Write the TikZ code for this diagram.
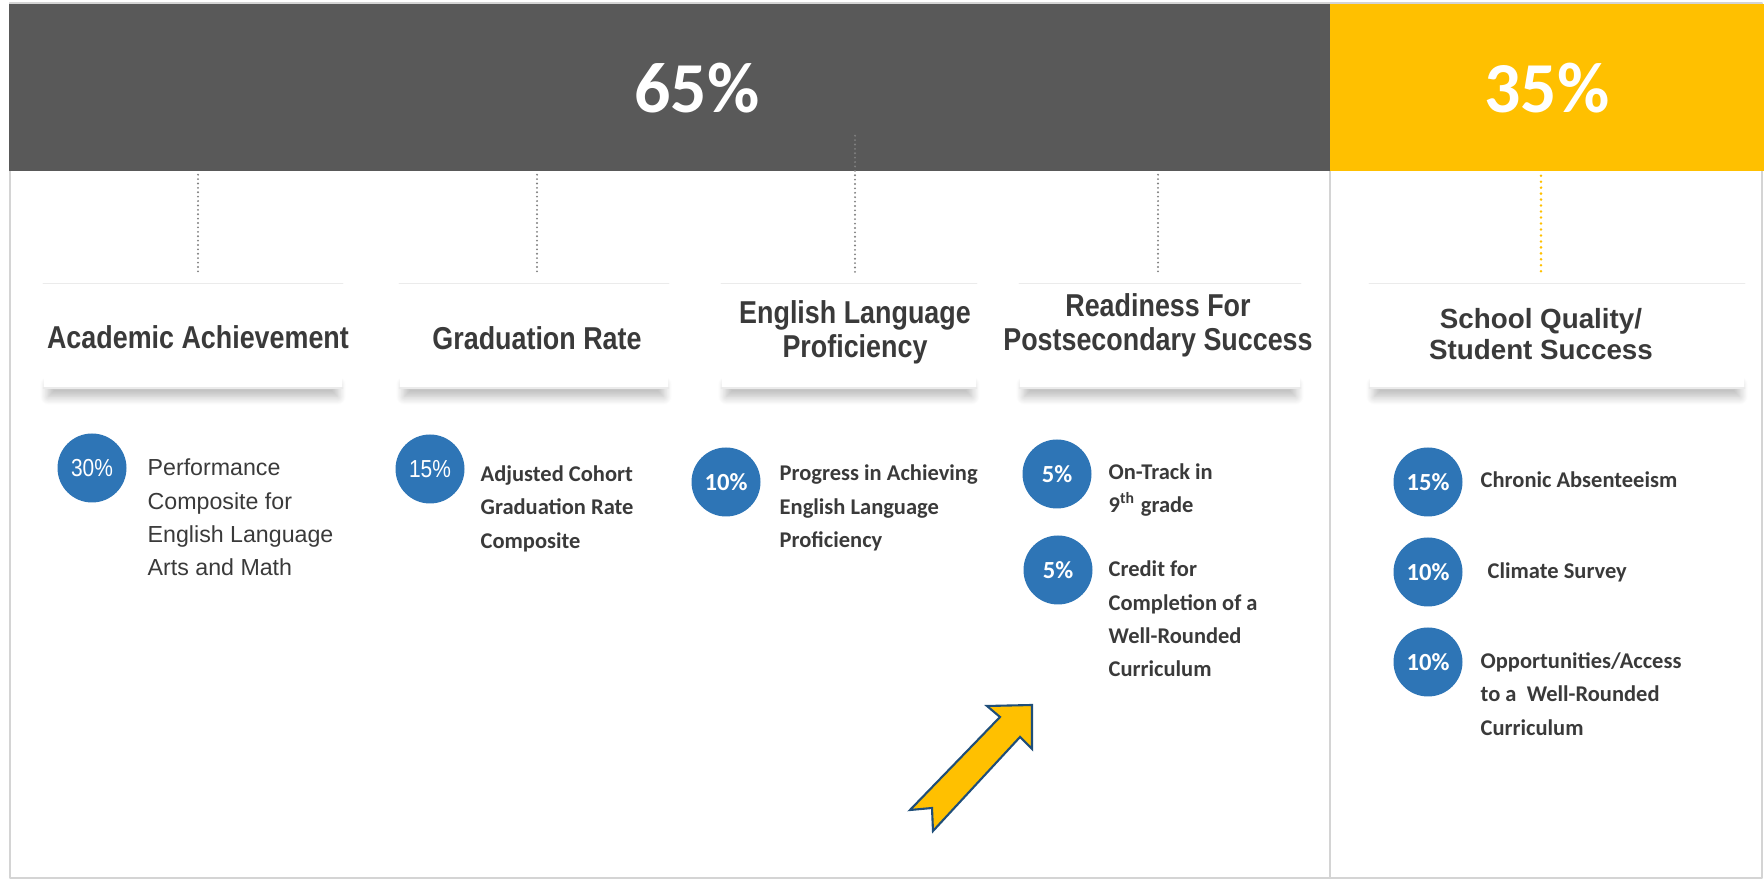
\documentclass[tikz,border=0pt]{standalone}
\usepackage{fontspec}
\setmainfont{Liberation Sans}
\newfontfamily\narrowsans[FakeStretch=0.85]{Liberation Sans}
\newfontfamily\calsans{Carlito}
\usetikzlibrary{calc,backgrounds,shadows.blur}
\definecolor{coregray}{HTML}{595959}
\definecolor{sqgold}{HTML}{FFC000}
\definecolor{dotblue}{HTML}{2E75B6}
\definecolor{inkgray}{HTML}{3A3A3A}
\definecolor{framegray}{HTML}{D4D4D4}
\definecolor{arrowedge}{HTML}{1F4E79}
\tikzset{
every picture/.style={line cap=round,line join=round},
bar block/.style={inner sep=0pt, minimum height=16.7mm},
bar label/.style={inner sep=0pt, text=white, font={\calsans\bfseries\fontsize{20.4}{24}\selectfont}},
head box/.style={fill=white, minimum height=10.3mm, inner sep=0pt},
head shadow/.style={fill=white,
  blur shadow={shadow xshift=0pt, shadow yshift=-2.4pt, shadow blur radius=2.4pt,
    shadow blur steps=12, shadow opacity=28}},
box edge/.style={draw=black!8, line width=0.4pt},
head label/.style={inner sep=0pt, align=center, text=inkgray,
  font={\narrowsans\bfseries\fontsize{9}{9.7}\selectfont}},
core dots/.style={draw=gray, line width=0.6pt, dash pattern=on 0pt off 1.25pt},
sq dots/.style={draw=sqgold, line width=0.8pt, dash pattern=on 0pt off 1.7pt},
weight dot/.style={circle, fill=dotblue, minimum size=6.9mm, inner sep=0pt, text=white,
  font={\calsans\bfseries\fontsize{7}{8}\selectfont}},
item text/.style={anchor=west, inner sep=0pt, align=left, text=inkgray,
  font={\calsans\bfseries\fontsize{6.4}{9.5}\selectfont}},
frame line/.style={draw=framegray, line width=0.6pt},
up arrow/.style={draw=arrowedge, fill=sqgold, line width=0.6pt, line join=miter}
}

\begin{document}
\begin{tikzpicture}[x=0.1mm, y=-0.1mm]
\useasboundingbox (0,0) rectangle (1764,880);
% outer frame and the split between the two parts
\draw[frame line] (10,3) rectangle (1762,878);
\draw[frame line] (1330,171) -- (1330,878);

% weight bars
\node[bar block, fill=coregray, minimum width=132.1mm] (core) at (669.5,87.5) {};
\node[bar block, fill=sqgold, minimum width=43.4mm] (sqss) at (1547,87.5) {};
\node[bar label] (corepct) at (697,88) {65\%};
\node[bar label] (sqsspct) at (1547,88) {35\%};

% indicator headers
\node[head box, minimum width=29.8mm] (acad) at (193,336) {};
\node[head box, minimum width=26.8mm] (grad) at (534,336) {};
\node[head box, minimum width=25.4mm] (elp) at (849,336) {};
\node[head box, minimum width=28mm] (ready) at (1160,336) {};
\node[head box, minimum width=37.4mm] (school) at (1557,336) {};
\begin{scope}[on background layer]
\foreach \b in {acad,grad,elp,ready,school}
  \path[head shadow] ($(\b.south west)+(5,-12)$) rectangle ($(\b.south east)+(-5,0)$);
\end{scope}
\foreach \b in {acad,grad,elp,ready,school} {
  \draw[box edge] (\b.north west) -- (\b.north east);
  \draw[box edge] (\b.south west) -- (\b.south east);
}

\node[head label] (acadlbl) at (198,337) {Academic Achievement};
\node[head label] (gradlbl) at (537,338) {Graduation Rate};
\node[head label] (elplbl) at (855,332) {English Language\\Proficiency};
\node[head label] (readylbl) at (1158,325) {Readiness For\\Postsecondary Success};
\node[head label, font={\bfseries\fontsize{7.9}{9}\selectfont}] (schoollbl) at (1541,334)
  {School Quality/\\Student Success};

% dotted drops from the bars
\foreach \h in {acad,grad,ready}
  \draw[core dots] ($(\h lbl |- core.south)+(0,3)$) -- ($(\h lbl |- \h.north)+(0,-9)$);
\draw[core dots] ($(elplbl |- core.south)+(0,-36)$) -- ($(elplbl |- elp.north)+(0,-9)$);
\draw[sq dots] ($(schoollbl |- sqss.south)+(0,4)$) -- ($(schoollbl |- school.north)+(0,-10)$);

% weighted measures
\node[weight dot, font={\narrowsans\fontsize{7}{8}\selectfont}] (w30) at (92,468) {30\%};
\node[item text, font={\fontsize{6.6}{9.5}\selectfont}] (perf) at (147,517.5)
  {Performance\\Composite for\\English Language\\Arts and Math};
\node[weight dot, font={\narrowsans\fontsize{7}{8}\selectfont}] (w15a) at (430,469) {15\%};
\node[item text] (acgr) at (480,508.5) {Adjusted Cohort\\Graduation Rate\\Composite};
\node[weight dot] (w10a) at (726,482) {10\%};
\node[item text] (prog) at (779,508) {Progress in Achieving\\English Language\\Proficiency};
\node[weight dot] (w5a) at (1057,474) {5\%};
\node[item text] (ontr) at (1108,490) {On-Track in\\9\textsuperscript{th} grade};
\node[weight dot] (w5b) at (1058,570) {5\%};
\node[item text] (cred) at (1108,619) {Credit for\\Completion of a\\Well-Rounded\\Curriculum};
\node[weight dot] (w15b) at (1428,482) {15\%};
\node[item text] (chab) at (1480,480) {Chronic Absenteeism};
\node[weight dot] (w10b) at (1428,572) {10\%};
\node[item text] (clim) at (1487,572) {Climate Survey};
\node[weight dot] (w10c) at (1428,662) {10\%};
\node[item text] (opps) at (1480,694) {Opportunities/Access\\to a\ \ Well-Rounded\\Curriculum};

% block arrow pointing at the readiness measures
\draw[up arrow] (1032,705) -- (1032,749) -- (1020,737) -- (933,831) -- (932,808)
  -- (910,810) -- (1000,717) -- (987,706) -- cycle;
\end{tikzpicture}
\end{document}
